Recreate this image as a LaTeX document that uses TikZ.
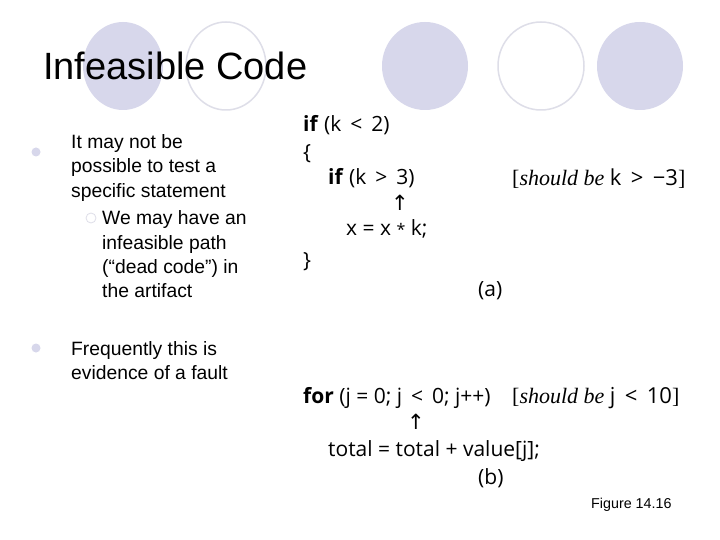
\documentclass[tikz,border=0pt]{standalone}
\usepackage{fontspec}
\setmainfont{Liberation Sans}
\newfontfamily\codefont{Open Sans}
\newfontfamily\serifit{Liberation Serif}
\newfontfamily\djv{DejaVu Sans}
\definecolor{lav}{RGB}{215,215,235}
\definecolor{lavline}{RGB}{222,222,232}
\begin{document}
\begin{tikzpicture}[x=1pt,y=-1pt,
  txt/.style={anchor=base west,inner sep=0pt,font=\fontsize{19.3}{20}\selectfont},
  code/.style={anchor=base west,inner sep=0pt,font=\codefont\fontsize{21}{22}\selectfont},
  note/.style={anchor=base west,inner sep=0pt,font=\serifit\fontsize{22}{22}\selectfont}]
\useasboundingbox (0,0) rectangle (720,540);
\fill[white] (0,0) rectangle (720,540);
\fill[lav] (123,66) ellipse [x radius=40,y radius=44];
\draw[lavline,line width=1.5pt] (226,66) ellipse [x radius=40,y radius=44];
\fill[lav] (425,66) ellipse [x radius=43,y radius=44];
\draw[lavline,line width=1.5pt] (541,66) ellipse [x radius=43,y radius=44];
\fill[lav] (640,66) ellipse [x radius=43,y radius=44];
\node[anchor=base west,inner sep=0pt,font=\fontsize{38}{40}\selectfont] (title) at (43,80) {Infeasible Code};
% left bullets
\fill[lav] (36,152) circle (4.5);
\node[txt] (b1a) at (71,149) {It may not be};
\node[txt] (b1b) at (71,173) {possible to test a};
\node[txt] (b1c) at (71,197) {specific statement};
\draw[lavline,line width=0.8pt] (91,218) circle (5);
\node[txt] (s1a) at (102,225) {We may have an};
\node[txt] (s1b) at (102,249) {infeasible path};
\node[txt] (s1c) at (102,273) {(“dead code”) in};
\node[txt] (s1d) at (102,297) {the artifact};
\fill[lav] (36,348) circle (4.5);
\node[txt] (b2a) at (71,355) {Frequently this is};
\node[txt] (b2b) at (71,379) {evidence of a fault};
% code (a)
\node[code] (c1) at (303,132) {\textbf{if} (k \,<\, 2)};
\node[code] (c2) at (303,160) {\{};
\node[code] (c3) at (328,185) {\textbf{if} (k \,>\, 3)};
\node[note] (n1) at (512,186) {[\textit{should be} {\codefont k \,>\, −3}]};
\node[code] (ar1) at (391,211) {\djv ↑};
\node[code] (c4) at (346,236) {x = x {\fontsize{16}{16}\selectfont *} k;};
\node[code] (c5) at (303,267) {\}};
\node[code] (la) at (478,296) {(a)};
% code (b)
\node[code] (d1) at (303,403) {\textbf{for} (j = 0; j \,<\, 0; j++)};
\node[note] (n2) at (512,403) {[\textit{should be} {\codefont j \,<\, 10}]};
\node[code] (ar2) at (407,429) {\djv ↑};
\node[code] (d2) at (328,456) {total = total + value[j];};
\node[code] (lb) at (478,484) {(b)};
\node[anchor=base west,inner sep=0pt,font=\fontsize{14.3}{16}\selectfont] (fig) at (591,508) {Figure 14.16};
\end{tikzpicture}
\end{document}
